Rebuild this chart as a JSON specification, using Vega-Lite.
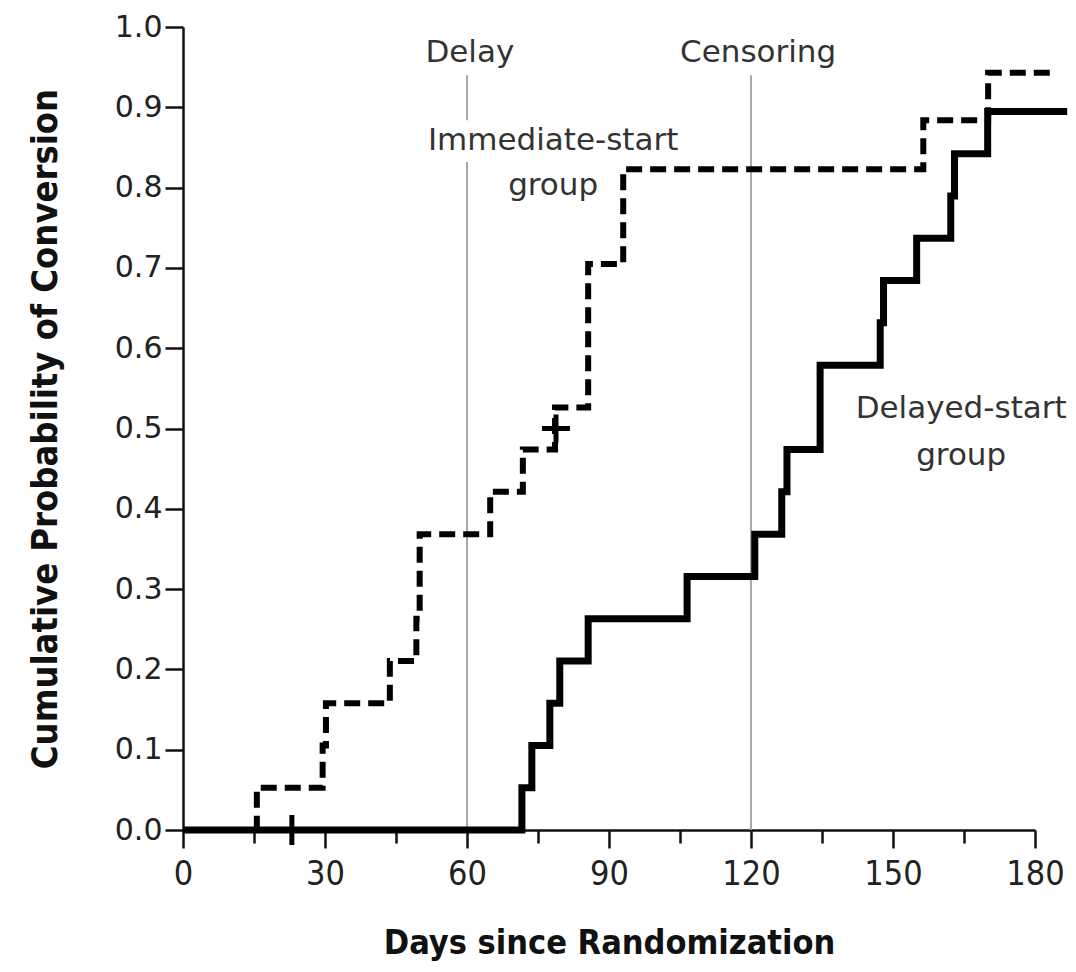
{
  "$schema": "https://vega.github.io/schema/vega-lite/v6.json",
  "width": 852,
  "height": 803,
  "autosize": {"type": "none"},
  "padding": {"left": 183, "top": 27, "right": 41, "bottom": 142},
  "background": "white",
  "config": {"view": {"stroke": null}},
  "datasets": {
    "curves": [
      {"group": "Immediate-start", "day": 0, "p": 0},
      {"group": "Immediate-start", "day": 15.6, "p": 0.0526},
      {"group": "Immediate-start", "day": 29.5, "p": 0.1053},
      {"group": "Immediate-start", "day": 30.2, "p": 0.1579},
      {"group": "Immediate-start", "day": 43.7, "p": 0.2105},
      {"group": "Immediate-start", "day": 49.3, "p": 0.2632},
      {"group": "Immediate-start", "day": 50.0, "p": 0.3684},
      {"group": "Immediate-start", "day": 64.9, "p": 0.4211},
      {"group": "Immediate-start", "day": 71.8, "p": 0.4737},
      {"group": "Immediate-start", "day": 78.6, "p": 0.5263},
      {"group": "Immediate-start", "day": 85.6, "p": 0.705},
      {"group": "Immediate-start", "day": 93.0, "p": 0.823},
      {"group": "Immediate-start", "day": 156.4, "p": 0.884},
      {"group": "Immediate-start", "day": 170.1, "p": 0.943},
      {"group": "Immediate-start", "day": 184.2, "p": 0.943},
      {"group": "Delayed-start", "day": 0, "p": 0},
      {"group": "Delayed-start", "day": 71.6, "p": 0.0526},
      {"group": "Delayed-start", "day": 73.7, "p": 0.1053},
      {"group": "Delayed-start", "day": 77.5, "p": 0.1579},
      {"group": "Delayed-start", "day": 79.6, "p": 0.2105},
      {"group": "Delayed-start", "day": 85.6, "p": 0.2632},
      {"group": "Delayed-start", "day": 106.5, "p": 0.3158},
      {"group": "Delayed-start", "day": 120.8, "p": 0.3684},
      {"group": "Delayed-start", "day": 126.5, "p": 0.4211},
      {"group": "Delayed-start", "day": 127.6, "p": 0.4737},
      {"group": "Delayed-start", "day": 134.6, "p": 0.5789},
      {"group": "Delayed-start", "day": 147.3, "p": 0.6316},
      {"group": "Delayed-start", "day": 148.0, "p": 0.6842},
      {"group": "Delayed-start", "day": 155.0, "p": 0.7368},
      {"group": "Delayed-start", "day": 162.2, "p": 0.7895},
      {"group": "Delayed-start", "day": 163.0, "p": 0.8421},
      {"group": "Delayed-start", "day": 170.0, "p": 0.8947},
      {"group": "Delayed-start", "day": 186.8, "p": 0.8947}
    ],
    "refs": [
      {"name": "Delay", "day": 60, "p0": 0, "p1": 0.832},
      {"name": "Delay", "day": 60, "p0": 0.884, "p1": 0.94},
      {"name": "Censoring", "day": 120, "p0": 0, "p1": 0.94}
    ],
    "labels": [
      {"text": "Delay", "day": 60.6, "p": 0.956},
      {"text": "Censoring", "day": 121.5, "p": 0.956},
      {"text": "Immediate-start", "day": 78.2, "p": 0.847},
      {"text": "group", "day": 78.2, "p": 0.791},
      {"text": "Delayed-start", "day": 164.4, "p": 0.513},
      {"text": "group", "day": 164.4, "p": 0.4545}
    ],
    "cross": [{"group": "Immediate-start", "day": 78.8, "p": 0.5}],
    "vtick": [{"group": "Delayed-start", "day": 23, "p": 0}]
  },
  "encoding": {
    "x": {
      "field": "day", "type": "quantitative",
      "scale": {"domain": [0, 180], "nice": false, "zero": false},
      "axis": {
        "title": "Days since Randomization",
        "values": [0, 15, 30, 45, 60, 75, 90, 105, 120, 135, 150, 165, 180],
        "labelExpr": "datum.value % 30 == 0 ? datum.label : ''",
        "grid": false,
        "domainColor": "#111", "domainWidth": 2.5,
        "tickColor": "#111", "tickWidth": 2.5,
        "tickSize": {"condition": {"test": "datum.value % 30 != 0", "value": 13}, "value": 18},
        "labelFont": "DejaVu Sans Condensed", "labelFontSize": 34, "labelColor": "#222",
        "labelPadding": 9, "labelFlush": false,
        "titleFont": "DejaVu Sans Condensed", "titleFontSize": 34, "titleFontWeight": "bold", "titleColor": "#111",
        "titlePadding": 35
      }
    },
    "y": {
      "field": "p", "type": "quantitative",
      "scale": {"domain": [0, 1], "nice": false},
      "axis": {
        "title": "Cumulative Probability of Conversion",
        "values": [0, 0.1, 0.2, 0.3, 0.4, 0.5, 0.6, 0.7, 0.8, 0.9, 1.0],
        "format": ".1f",
        "grid": false,
        "domainColor": "#111", "domainWidth": 2.5,
        "tickColor": "#111", "tickWidth": 2.5, "tickSize": 18,
        "labelFont": "DejaVu Sans", "labelFontSize": 30, "labelColor": "#222",
        "labelPadding": 3, "labelFlush": false,
        "titleFont": "DejaVu Sans Condensed", "titleFontSize": 36, "titleFontWeight": "bold", "titleColor": "#111",
        "titlePadding": 50
      }
    }
  },
  "layer": [
    {
      "data": {"name": "refs"},
      "mark": {"type": "rule", "color": "#a8a8a8", "strokeWidth": 2},
      "encoding": {
        "y": {"field": "p0", "type": "quantitative"},
        "y2": {"field": "p1"}
      }
    },
    {
      "data": {"name": "curves"},
      "mark": {"type": "line", "interpolate": "step-after", "color": "#000", "strokeCap": "butt", "strokeJoin": "miter"},
      "encoding": {
        "detail": {"field": "group"},
        "strokeDash": {
          "field": "group", "type": "nominal",
          "scale": {"domain": ["Immediate-start", "Delayed-start"], "range": [[16, 8], [1, 0]]},
          "legend": null
        },
        "strokeWidth": {
          "field": "group", "type": "nominal",
          "scale": {"domain": ["Immediate-start", "Delayed-start"], "range": [6, 7]},
          "legend": null
        }
      }
    },
    {
      "data": {"name": "cross"},
      "mark": {"type": "point", "shape": "M-1,0H1M0,-1V1", "filled": false, "stroke": "#000", "strokeWidth": 5, "size": 784, "opacity": 1}
    },
    {
      "data": {"name": "vtick"},
      "mark": {"type": "point", "shape": "M0,-1V1", "filled": false, "stroke": "#000", "strokeWidth": 5, "size": 900, "opacity": 1}
    },
    {
      "data": {"name": "labels"},
      "mark": {"type": "text", "font": "DejaVu Sans", "fontSize": 31, "color": "#333", "align": "center", "baseline": "alphabetic"},
      "encoding": {"text": {"field": "text"}}
    }
  ]
}
